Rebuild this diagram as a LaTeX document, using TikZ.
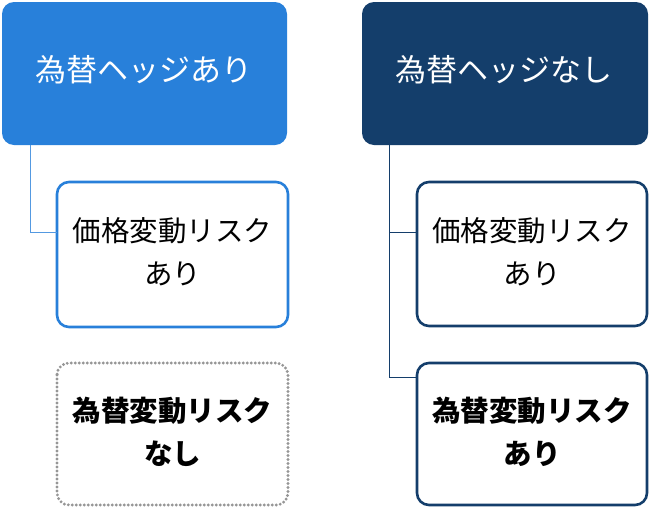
\documentclass[tikz,border=0pt]{standalone}
\usepackage{fontspec}
\setmainfont{Noto Sans CJK JP}
\begin{document}
\begin{tikzpicture}[x=1pt,y=-1pt,
  hdrtext/.style={text=white, font=\fontsize{31}{36}\selectfont},
  child/.style={rounded corners=12pt, fill=white, line width=2.6pt},
  childtext/.style={align=center, font=\fontsize{28.5}{43}\selectfont},
  conn/.style={line width=1pt}]
\definecolor{lblue}{RGB}{40,128,218}
\definecolor{navy}{RGB}{20,62,107}
\definecolor{dotgray}{RGB}{150,150,150}
\useasboundingbox (0,0) rectangle (650,509);
% headers
\path[fill=lblue, rounded corners=12pt] (2,2) rectangle (287,145);
\node[hdrtext] (h1) at (143.5,70) {為替ヘッジあり};
\path[fill=navy, rounded corners=12pt] (362,2) rectangle (648,145);
\node[hdrtext] (h2) at (504,70) {為替ヘッジなし};
\coordinate (h1b) at (30,145);
\coordinate (h2b) at (389,145);
% left children
\draw[child, draw=lblue] (57,182) rectangle (288,327);
\node[childtext] (c1) at (172.5,252) {価格変動リスク\\あり};
\draw[child, draw=dotgray, dash pattern=on 0pt off 4pt, line cap=round, line width=3.2pt] (57,363) rectangle (288,505);
\node[childtext, font=\bfseries\fontsize{28.5}{43}\selectfont] (c2) at (172.5,432) {為替変動リスク\\なし};
\coordinate (c1l) at (57,232);
% right children
\draw[child, draw=navy] (417,182) rectangle (647,326);
\node[childtext] (c3) at (532,252) {価格変動リスク\\あり};
\draw[child, draw=navy] (417,363) rectangle (647,505);
\node[childtext, font=\bfseries\fontsize{28.5}{43}\selectfont] (c4) at (532,432) {為替変動リスク\\あり};
\coordinate (c3l) at (416,232);
\coordinate (c4l) at (416,377);
% connectors
\draw[conn, draw=lblue!80] (h1b) |- (c1l);
\draw[conn, draw=navy] (h2b) |- (c4l);
\draw[conn, draw=navy] (h2b |- c3l) -- (c3l);
\end{tikzpicture}
\end{document}
